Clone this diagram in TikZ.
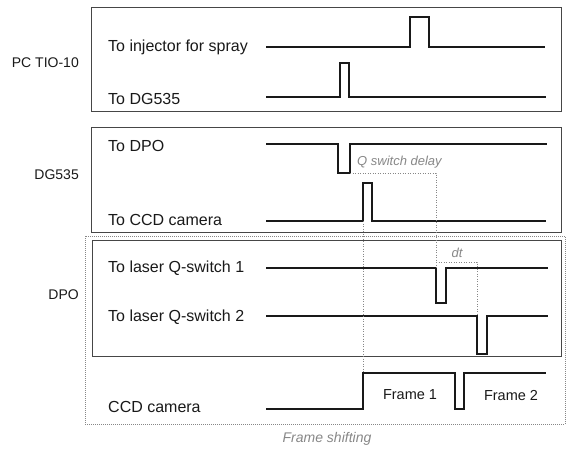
\documentclass[tikz,border=0pt]{standalone}
\usepackage{fontspec}
\setmainfont{Liberation Sans}
\usepackage{tikz}
\usetikzlibrary{positioning}
\definecolor{sigblack}{RGB}{25,25,25}
\definecolor{boxgray}{RGB}{70,70,70}
\definecolor{notegray}{RGB}{135,135,135}

\tikzset{
  panel/.style={draw=boxgray, line width=0.9pt},
  outerpanel/.style={draw=notegray, dash pattern=on 1pt off 1pt, line width=0.9pt},
  wave/.style={draw=sigblack, line width=1.3pt},
  guide/.style={draw=notegray, dash pattern=on 1pt off 1.5pt, line width=0.8pt},
  siglabel/.style={anchor=west, inner sep=0pt, text=sigblack, font=\fontsize{16}{18}\selectfont},
  devlabel/.style={anchor=east, inner sep=0pt, text=sigblack, font=\fontsize{14}{16}\selectfont},
  framelabel/.style={inner sep=0pt, text=sigblack, font=\fontsize{14.5}{16}\selectfont},
  note/.style={inner sep=0pt, text=notegray, font=\itshape\fontsize{13}{15}\selectfont}
}

\begin{document}
\begin{tikzpicture}[x=1pt,y=-1pt]
  \useasboundingbox (0,0) rectangle (566,450);

  % --- PC TIO-10 ---
  \draw[panel] (91,7) rectangle (561,111);
  \node[devlabel] (pctio) at (79,63) {PC TIO-10};
  \node[siglabel] (toinj) at (108,47) {To injector for spray};
  \node[siglabel] (todg) at (108,99) {To DG535};
  \draw[wave] (266,47) -- (410,47) -- (410,17) -- (429,17) -- (429,47) -- (545,47);
  \draw[wave] (266,97) -- (340,97) -- (340,63) -- (349,63) -- (349,97) -- (546,97);

  % --- DG535 ---
  \draw[panel] (91,127) rectangle (561,232);
  \node[devlabel] (dg) at (79,175) {DG535};
  \node[siglabel] (todpo) at (108,146) {To DPO};
  \node[siglabel] (toccd) at (108,220) {To CCD camera};
  \draw[wave] (266,144) -- (338,144) -- (338,173) -- (350,173) -- (350,144) -- (547,144);
  \draw[wave] (266,221) -- (363,221) -- (363,183) -- (372,183) -- (372,221) -- (546,221);
  \node[note, anchor=west] (qdelay) at (357,162) {Q switch delay};

  % --- DPO + CCD camera (dotted frame) ---
  \draw[outerpanel] (85,236) rectangle (565,424);
  \draw[panel] (92,240) rectangle (561,356);
  \node[devlabel] (dpo) at (79,295) {DPO};
  \node[siglabel] (toq1) at (108,268) {To laser Q-switch 1};
  \node[siglabel] (toq2) at (108,317) {To laser Q-switch 2};
  \draw[wave] (266,268) -- (436,268) -- (436,303) -- (446,303) -- (446,268) -- (548,268);
  \draw[wave] (266,316) -- (477,316) -- (477,354) -- (487,354) -- (487,316) -- (548,316);

  % CCD camera frames
  \node[siglabel] (ccd) at (108,407) {CCD camera};
  \draw[wave] (266,409) -- (363,409) -- (363,373) -- (455,373) -- (455,409) -- (464,409) -- (464,373) -- (546,373);
  \node[framelabel] (frame1) at (410,395) {Frame 1};
  \node[framelabel] (frame2) at (511,396) {Frame 2};

  % Timing guides
  \draw[guide] (350,173) -- (436,173) -- (436,268);
  \draw[guide] (363,221) -- (363,373);
  \draw[guide] (436,262) -- (477,262) -- (477,316);
  \node[note] (dt) at (457,253) {dt};

  % Caption
  \node[note, font=\itshape\fontsize{14}{16}\selectfont] (caption) at (327,439) {Frame shifting};
\end{tikzpicture}
\end{document}
